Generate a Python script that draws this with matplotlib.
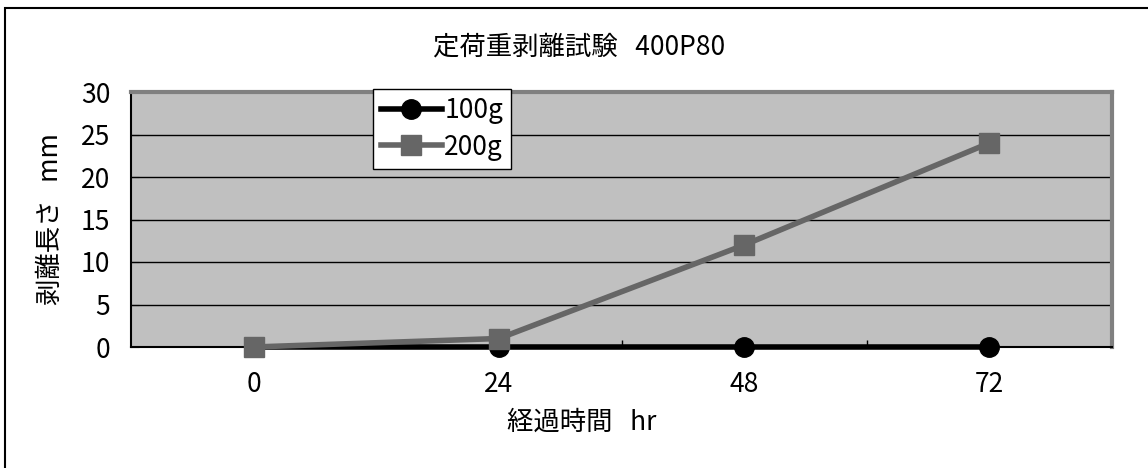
import matplotlib
matplotlib.use("Agg")
import matplotlib.pyplot as plt
from matplotlib.patches import Rectangle

plt.rcParams['font.family'] = ['Noto Sans CJK JP', 'DejaVu Sans']

# data
hours = ['0', '24', '48', '72']
load_100g = [0, 0, 0, 0]
load_200g = [0, 1, 12, 24]
yticks = [0, 5, 10, 15, 20, 25, 30]

fs = 19

fig = plt.figure(figsize=(11.48, 4.68), dpi=100)
ax = fig.add_axes([131/1148, 1-347/468, (1112-131)/1148, (347-92)/468])

# outer chart border (cut off at right/bottom like the reference)
fig.patches.append(Rectangle((5/1148, -0.2), 1.2, 1.2 - 8/468,
                             transform=fig.transFigure, fill=False,
                             edgecolor='black', linewidth=1.5))

ax.set_facecolor('#c0c0c0')
x = list(range(len(hours)))
ax.plot(x, load_100g, color='black', lw=4, marker='o', ms=14,
        label='100g', zorder=3, clip_on=False)
ax.plot(x, load_200g, color='#666666', lw=4, marker='s', ms=14,
        label='200g', zorder=4, clip_on=False)

ax.set_xlim(-0.5, 3.5)
ax.set_ylim(0, 30)
ax.set_xticks(x)
ax.set_xticklabels(hours)
ax.set_xticks([0.5, 1.5, 2.5], minor=True)
ax.set_yticks(yticks)
ax.yaxis.grid(True, color='black', lw=1)
ax.set_axisbelow(True)

ax.tick_params(axis='x', which='major', length=0, labelsize=fs, pad=17)
ax.tick_params(axis='x', which='minor', direction='in', length=5, width=1)
ax.tick_params(axis='y', direction='in', length=6, labelsize=fs, pad=15)

for s in ['top', 'right']:
    ax.spines[s].set_color('#808080')
    ax.spines[s].set_linewidth(3)
ax.spines['left'].set_color('black')
ax.spines['left'].set_linewidth(1.5)
ax.spines['bottom'].set_color('black')
ax.spines['bottom'].set_linewidth(1.5)

fig.text(582/1148, 1-422/468, '経過時間   hr', ha='center', va='center',
         fontsize=fs)
fig.text(50/1148, 1-219/468, '剥離長さ   mm', ha='center', va='center',
         rotation=90, fontsize=fs)
fig.text(579/1148, 1-47/468, '定荷重剥離試験   400P80',
         ha='center', va='center', fontsize=fs)

leg = ax.legend(loc='upper left', bbox_to_anchor=((373-131)/981, 1.01),
                fontsize=fs, frameon=True, fancybox=False, framealpha=1,
                edgecolor='black', borderpad=0.3, handlelength=2.3,
                handletextpad=0.1, labelspacing=0.35, borderaxespad=0)
leg.get_frame().set_linewidth(1)

fig.savefig('out.png', dpi=100)
